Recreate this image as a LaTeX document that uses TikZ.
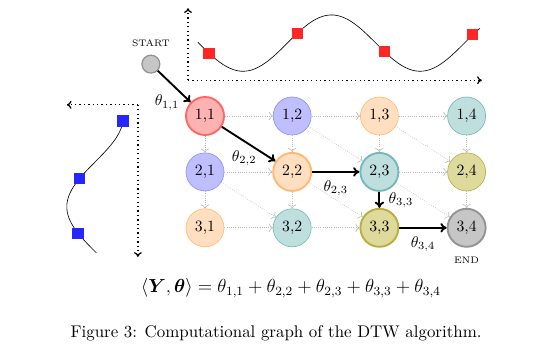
\documentclass[tikz,border=0pt]{standalone}
\usepackage{amsmath}
\usetikzlibrary{arrows.meta,positioning}
\tikzset{cell/.style={circle, draw, minimum size=8.5mm, inner sep=0pt},
  oncell/.style={cell, very thick},
  diagA/.style={fill=red!30, draw=red!60},
  diagB/.style={fill=blue!25, draw=blue!45},
  diagC/.style={fill=orange!25, draw=orange!55},
  diagD/.style={fill=teal!25, draw=teal!55},
  diagE/.style={fill=olive!30, draw=olive!65},
  diagF/.style={fill=gray!45, draw=gray!85},
  link/.style={-{To[length=2.5pt]}, densely dotted, gray!55},
  hop/.style={-{To[length=4pt,width=6pt]}, very thick},
  axis/.style={-{To[length=3pt,width=5pt]}, thick, dotted},
  sample/.style={rectangle, minimum size=2.5mm, inner sep=0pt},
  tag/.style={font=\fontsize{6}{7}\selectfont}}

\begin{document}
\begin{tikzpicture}[node distance=12.5mm and 19.5mm, on grid]
  \useasboundingbox (-4.584,-5.322) rectangle (7.67,2.594);
  % grid of cells
  \node[oncell, diagA] (n11) at (0,0) {1,1};
  \node[cell, diagB, right=of n11] (n12) {1,2};
  \node[cell, diagC, right=of n12] (n13) {1,3};
  \node[cell, diagD, right=of n13] (n14) {1,4};
  \node[cell, diagB, below=of n11] (n21) {2,1};
  \node[oncell, diagC, right=of n21] (n22) {2,2};
  \node[oncell, diagD, right=of n22] (n23) {2,3};
  \node[cell, diagE, right=of n23] (n24) {2,4};
  \node[cell, diagC, below=of n21] (n31) {3,1};
  \node[cell, diagD, right=of n31] (n32) {3,2};
  \node[oncell, diagE, right=of n32] (n33) {3,3};
  \node[oncell, diagF, right=of n33] (n34) {3,4};
  \node[cell, thick, diagF, minimum size=4mm] (start) at (-1.21,1.16) {};
  \node[tag, above=4.7mm of start] (startlab) {START};
  \node[tag, below=7.2mm of n34] (endlab) {END};
  % dotted links
  \draw[link] (n11) -- (n12);
  \draw[link] (n12) -- (n13);
  \draw[link] (n13) -- (n14);
  \draw[link] (n21) -- (n22);
  \draw[link] (n23) -- (n24);
  \draw[link] (n31) -- (n32);
  \draw[link] (n32) -- (n33);
  \draw[link] (n11) -- (n21);
  \draw[link] (n21) -- (n31);
  \draw[link] (n12) -- (n22);
  \draw[link] (n22) -- (n32);
  \draw[link] (n13) -- (n23);
  \draw[link] (n14) -- (n24);
  \draw[link] (n24) -- (n34);
  \draw[link] (n12) -- (n23);
  \draw[link] (n13) -- (n24);
  \draw[link] (n21) -- (n32);
  \draw[link] (n22) -- (n33);
  \draw[link] (n23) -- (n34);
  % warping path
  \draw[hop] (start) -- node[below left=0.5mm and -2.5mm]{$\theta_{1,1}$} (n11);
  \draw[hop] (n11) -- node[below=0pt, xshift=-1mm]{$\theta_{2,2}$} (n22);
  \draw[hop] (n22) -- node[below=0.5mm]{$\theta_{2,3}$} (n23);
  \draw[hop] (n23) -- node[right=0.7mm]{$\theta_{3,3}$} (n33);
  \draw[hop] (n33) -- node[below=0.6mm]{$\theta_{3,4}$} (n34);
  % series along the top
  \coordinate (topO) at (-0.38,0.80);
  \draw[axis] (topO) -- (-0.38,2.41);
  \draw[axis] (topO) -- (6.19,0.80);
  \draw[domain=-0.16:6.15, samples=80, smooth] plot (\x, {1.63-0.63*cos((\x-0.85)*90.91)});
  \node[sample, fill=red!85] (r1) at (0.09,1.40) {};
  \node[sample, fill=red!85] (r2) at (2.06,1.85) {};
  \node[sample, fill=red!85] (r3) at (4.02,1.435) {};
  \node[sample, fill=red!85] (r4) at (5.99,1.817) {};
  % series along the left
  \coordinate (leftO) at (-1.50,0.25);
  \draw[axis] (leftO) -- (-3.09,0.25);
  \draw[axis] (leftO) -- (-1.50,-3.15);
  \draw[variable=\t, domain=-0.11:-3.06, samples=80, smooth] plot ({-2.46-0.63*cos((\t+2.03)*90)}, \t);
  \node[sample, fill=blue!85] (b1) at (-1.835,-0.11) {};
  \node[sample, fill=blue!85] (b2) at (-2.80,-1.39) {};
  \node[sample, fill=blue!85] (b3) at (-2.84,-2.62) {};
  % sum and caption
  \node[font=\fontsize{11.9}{14}\selectfont] (sum) at (1.92,-3.85) {$\langle \boldsymbol{Y}, \boldsymbol{\theta} \rangle = \theta_{1,1} + \theta_{2,2} + \theta_{2,3} + \theta_{3,3} + \theta_{3,4}$};
  \node[font=\fontsize{10.75}{13}\selectfont] (caption) at (1.59,-4.85) {Figure 3: Computational graph of the DTW algorithm.};
\end{tikzpicture}
\end{document}
